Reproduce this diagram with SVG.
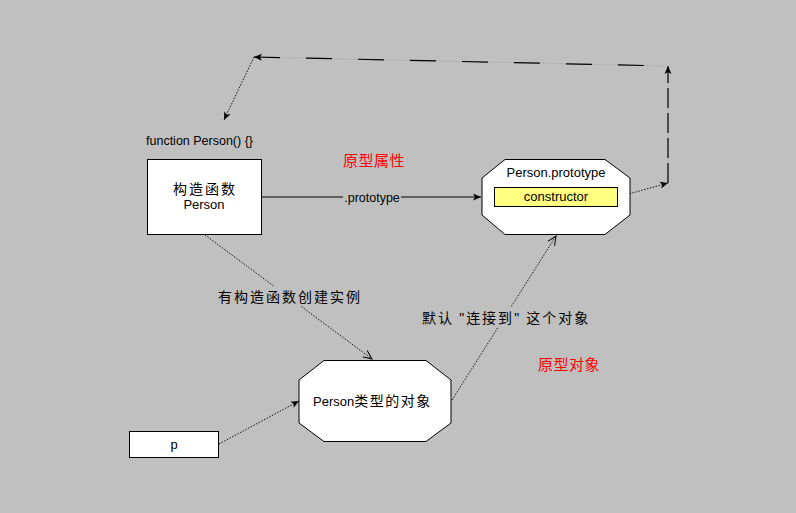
<svg xmlns="http://www.w3.org/2000/svg" width="796" height="513" viewBox="0 0 796 513">
<defs>
<style>
.node{fill:#fff;stroke:#000;stroke-width:1}
.t{font-family:"Liberation Sans","Noto Sans CJK SC",sans-serif;fill:#000}
.red{font-family:"Noto Sans CJK SC","Liberation Sans",sans-serif;fill:#ff0000;font-size:15px;letter-spacing:0.5px}
.cn{font-family:"Noto Sans CJK SC","Liberation Sans",sans-serif;fill:#000;font-size:14px;letter-spacing:2px}
.q{font-family:"Liberation Sans",sans-serif}
.solid{stroke:#000;stroke-width:1;fill:none}
.dot{stroke:#111;stroke-width:1;fill:none;stroke-dasharray:1.5 1.5}
.dashbg{stroke:#b4b4b4;stroke-width:1.2;fill:none}
.dash{stroke:#000;stroke-width:1.2;fill:none;stroke-dasharray:26 26}
.vdash{stroke:#000;stroke-width:1.2;fill:none;stroke-dasharray:20 5}
</style>
<marker id="ah" markerWidth="9" markerHeight="8" refX="8" refY="4" orient="auto-start-reverse" markerUnits="userSpaceOnUse">
<path d="M0,0.5 L8,4 L0,7.5 L2,4 Z" fill="#000"/>
</marker>
<marker id="oh" markerWidth="10" markerHeight="10" refX="9" refY="5" orient="auto" markerUnits="userSpaceOnUse">
<path d="M0,1 L9,5 L0,9" fill="none" stroke="#000" stroke-width="1"/>
</marker>
</defs>
<rect width="796" height="513" fill="#c0c0c0"/>

<g id="connectors">
<line class="solid" x1="262" y1="197" x2="481" y2="197" marker-end="url(#ah)"/>
<line class="dot" x1="618" y1="197" x2="668" y2="183" marker-end="url(#ah)"/>
<line class="dashbg" x1="668" y1="183" x2="668" y2="68"/>
<line class="vdash" x1="668" y1="183" x2="668" y2="66" marker-end="url(#ah)"/>
<line class="dashbg" x1="256" y1="57" x2="668" y2="66"/>
<line class="dash" x1="254" y1="57" x2="668" y2="66" marker-start="url(#ah)"/>
<line class="dot" x1="254" y1="57" x2="224" y2="120" marker-end="url(#ah)"/>
<line class="dot" x1="205" y1="235" x2="372" y2="359" marker-end="url(#oh)"/>
<line class="dot" x1="219" y1="444" x2="299" y2="401" marker-end="url(#ah)"/>
<line class="dot" x1="452" y1="400" x2="556" y2="236" marker-end="url(#oh)"/>
</g>

<g id="label-prototype">
<rect x="343" y="189" width="58" height="16" fill="#c0c0c0"/>
<text class="t" x="372" y="202" font-size="12.5" text-anchor="middle">.prototype</text>
</g>
<g id="label-create">
<rect x="216" y="286" width="146" height="20" fill="#c0c0c0"/>
<text class="cn" x="218" y="302">有构造函数创建实例</text>
</g>
<g id="label-link">
<rect x="420" y="307" width="166" height="20" fill="#c0c0c0"/>
<text class="cn" x="422" y="323" letter-spacing="1.5">默认 <tspan class="q">"</tspan>连接到<tspan class="q">"</tspan> 这个对象</text>
</g>

<g id="title-function">
<text class="t" x="146" y="145" font-size="12.5">function Person() {}</text>
</g>

<g id="constructor-box">
<rect class="node" x="147.500" y="159.500" width="114" height="75"/>
<text class="cn" x="173" y="194">构造函数</text>
<text class="t" x="204" y="209" font-size="13" text-anchor="middle">Person</text>
</g>

<g id="prototype-node">
<polygon class="node" points="505,159.500 605,159.500 630,178 630,215 605,234.500 505,234.500 482,215 482,178"/>
<text class="t" x="556" y="177" font-size="13" text-anchor="middle">Person.prototype</text>
<g id="constructor-field">
<rect x="494.500" y="187.500" width="123" height="19" fill="#ffff80" stroke="#000"/>
<text class="t" x="556" y="201" font-size="13" text-anchor="middle">constructor</text>
</g>
</g>

<g id="instance-node">
<polygon class="node" points="324,360.500 426,360.500 451,380 451,423 426,441.500 324,441.500 299,423 299,380"/>
<text class="t" x="313" y="406" font-size="13">Person<tspan font-family="Noto Sans CJK SC,sans-serif" font-size="14" letter-spacing="1.5">类型的对象</tspan></text>
</g>

<g id="p-node">
<rect class="node" x="129.500" y="431.500" width="89" height="26"/>
<text class="t" x="174" y="449" font-size="13" text-anchor="middle">p</text>
</g>

<g id="red-labels">
<text class="red" x="343" y="166">原型属性</text>
<text class="red" x="538" y="370">原型对象</text>
</g>
</svg>
